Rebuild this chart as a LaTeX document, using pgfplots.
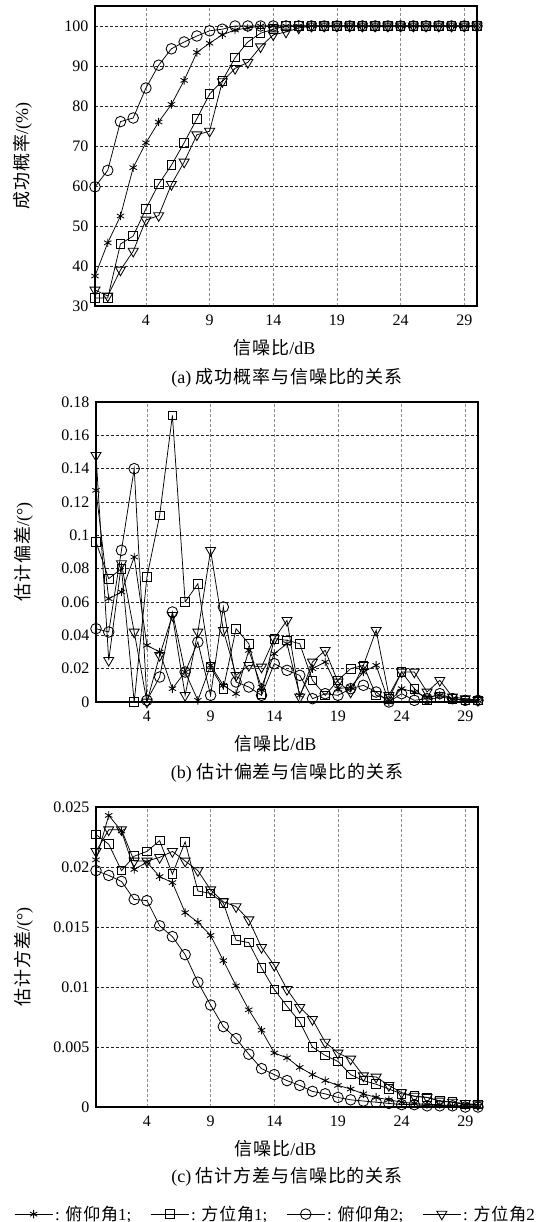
\documentclass[border=0pt]{standalone}
\usepackage{pgfplots}
\usepackage{pgfplotstable}
\pgfplotsset{compat=1.18}
\usepackage{fontspec}
\setmainfont{Liberation Serif}
\newfontfamily\cjk[LetterSpace=5]{Noto Sans CJK SC}
\newcommand{\zh}[1]{{\cjk #1}}

\pgfplotstableread{
x s q c t
0 37.5 32.0 59.8 34.0
1 45.8 32.0 63.9 32.5
2 52.5 45.5 76.1 39.0
3 64.6 47.5 77.0 43.7
4 70.8 54.3 84.5 51.5
5 76.0 60.5 90.2 52.6
6 80.4 65.2 94.3 60.4
7 86.4 70.8 96.0 66.0
8 93.4 76.8 97.5 72.8
9 95.7 83.0 98.8 73.7
10 97.8 86.3 99.2 86.1
11 99.0 92.1 100 89.4
12 99.5 96.0 100 90.9
13 100 98.2 100 94.8
14 100 99.2 100 97.8
15 100 100 100 98.5
16 100 100 100 99.5
17 100 100 100 100
18 100 100 100 100
19 100 100 100 100
20 100 100 100 100
21 100 100 100 100
22 100 100 100 100
23 100 100 100 100
24 100 100 100 100
25 100 100 100 100
26 100 100 100 100
27 100 100 100 100
28 100 100 100 100
29 100 100 100 100
30 100 100 100 100
}\tableA

\pgfplotstableread{
x s q c t
0 0.127 0.096 0.044 0.148
1 0.062 0.074 0.042 0.025
2 0.066 0.080 0.091 0.083
3 0.087 0.000 0.140 0.042
4 0.034 0.075 0.001 0.000
5 0.030 0.112 0.015 0.028
6 0.008 0.172 0.054 0.052
7 0.018 0.060 0.018 0.004
8 0.001 0.071 0.036 0.042
9 0.022 0.021 0.004 0.091
10 0.010 0.008 0.057 0.043
11 0.005 0.044 0.012 0.016
12 0.031 0.035 0.009 0.022
13 0.009 0.005 0.004 0.021
14 0.029 0.038 0.023 0.038
15 0.035 0.037 0.019 0.049
16 0.004 0.035 0.016 0.003
17 0.020 0.013 0.002 0.024
18 0.024 0.004 0.005 0.031
19 0.008 0.013 0.004 0.012
20 0.009 0.020 0.008 0.006
21 0.018 0.022 0.010 0.022
22 0.022 0.004 0.006 0.043
23 0.000 0.002 0.000 0.004
24 0.008 0.018 0.005 0.018
25 0.006 0.008 0.001 0.018
26 0.003 0.001 0.002 0.006
27 0.004 0.003 0.005 0.013
28 0.002 0.002 0.002 0.003
29 0.001 0.001 0.001 0.002
30 0.001 0.001 0.001 0.001
}\tableB

\pgfplotstableread{
x s q c t
0 0.0206 0.0227 0.0197 0.0213
1 0.0243 0.0219 0.0193 0.0231
2 0.0230 0.0197 0.0188 0.0231
3 0.0198 0.0209 0.0173 0.0205
4 0.0204 0.0213 0.0172 0.0205
5 0.0192 0.0222 0.0151 0.0208
6 0.0187 0.0194 0.0142 0.0213
7 0.0162 0.0221 0.0127 0.0205
8 0.0154 0.0180 0.0104 0.0197
9 0.0143 0.0178 0.0085 0.0181
10 0.0122 0.0170 0.0067 0.0171
11 0.0101 0.0139 0.0057 0.0167
12 0.0081 0.0137 0.0044 0.0156
13 0.0064 0.0116 0.0032 0.0133
14 0.0045 0.0098 0.0027 0.0118
15 0.0041 0.0084 0.0022 0.0098
16 0.0033 0.0071 0.0018 0.0083
17 0.0027 0.0050 0.0013 0.0073
18 0.0022 0.0043 0.0011 0.0054
19 0.0018 0.0038 0.0008 0.0045
20 0.0015 0.0027 0.0006 0.0040
21 0.0011 0.0022 0.0005 0.0026
22 0.0008 0.0019 0.0004 0.0025
23 0.0006 0.0015 0.0003 0.0018
24 0.0004 0.0011 0.0002 0.0012
25 0.0003 0.0009 0.0002 0.0009
26 0.0002 0.0008 0.0001 0.0008
27 0.0002 0.0005 0.0001 0.0005
28 0.0001 0.0004 0.0001 0.0004
29 0.0001 0.0002 0.0000 0.0003
30 0.0001 0.0002 0.0000 0.0002
}\tableC

\pgfplotsset{
  myax/.style={
    scale only axis, width=382pt, height=300pt,
    xmin=0, xmax=30, xtick={4,9,14,19,24,29},
    grid=major,
    x grid style={densely dashed, black!45, line width=0.5pt},
    y grid style={densely dashed, black!85, line width=0.5pt},
    axis line style={line width=1.3pt},
    major tick length=0pt,
    tick label style={font=\fontsize{16}{16}\selectfont},
    /pgf/number format/assume math mode=true,
    scaled y ticks=false,
    /pgf/number format/fixed, /pgf/number format/precision=3,
    clip=false,
    xlabel={\zh{信噪比}/dB},
    xlabel style={font=\fontsize{18}{18}\selectfont, at={(axis description cs:0.47,-0.14)}, anchor=center},
    ylabel style={font=\fontsize{18}{18}\selectfont, at={(axis description cs:-0.19,0.5)}, anchor=center},
    xticklabel style={yshift=-5pt},
    yticklabel style={xshift=-3pt},
    legend image code/.code={\draw[mark repeat=2,mark phase=2,#1] plot coordinates {(0pt,0pt) (19pt,0pt) (38pt,0pt)};},
  },
  sstar/.style={black, line width=0.75pt, mark=asterisk, mark size=4.2pt, mark options={solid, line width=0.85pt}},
  ssq/.style={black, line width=0.75pt, mark=square, mark size=4.3pt, mark options={solid, line width=0.85pt}},
  scirc/.style={black, line width=0.75pt, mark=o, mark size=5.3pt, mark options={solid, line width=0.85pt}},
  stri/.style={black, line width=0.75pt, mark=triangle, mark size=5.8pt, mark options={solid, rotate=180, line width=0.85pt}},
}

\begin{document}
\begin{tikzpicture}
\useasboundingbox (0pt,0pt) rectangle (553pt,-1222pt);

% (a)
\begin{axis}[myax, at={(95pt,-6pt)}, anchor=north west,
  ymin=30, ymax=105, ytick={30,40,...,100},
  ylabel={\zh{成功概率}/(\%)}]
\addplot[sstar] table[x=x,y=s] {\tableA};
\addplot[ssq] table[x=x,y=q] {\tableA};
\addplot[scirc] table[x=x,y=c] {\tableA};
\addplot[stri] table[x=x,y=t] {\tableA};
\end{axis}
\node[font=\fontsize{18}{18}\selectfont] at (287pt,-378pt) {(a) \zh{成功概率与信噪比的关系}};

% (b)
\begin{axis}[myax, at={(96pt,-402pt)}, anchor=north west,
  ymin=0, ymax=0.18, ytick={0,0.02,0.04,0.06,0.08,0.1,0.12,0.14,0.16,0.18},
  ylabel={\zh{估计偏差}/(°)}]
\addplot[sstar] table[x=x,y=s] {\tableB};
\addplot[ssq] table[x=x,y=q] {\tableB};
\addplot[scirc] table[x=x,y=c] {\tableB};
\addplot[stri] table[x=x,y=t] {\tableB};
\end{axis}
\node[font=\fontsize{18}{18}\selectfont] at (287pt,-773pt) {(b) \zh{估计偏差与信噪比的关系}};

% (c)
\begin{axis}[myax, at={(96pt,-807pt)}, anchor=north west,
  ymin=0, ymax=0.025, ytick={0,0.005,0.01,0.015,0.02,0.025},
  ylabel={\zh{估计方差}/(°)},
  legend columns=4,
  legend style={at={(axis description cs:0.47,-0.357)}, anchor=center, draw=none, fill=none,
    font=\fontsize{17}{17}\selectfont,
    /tikz/every odd column/.append style={column sep=0pt},
    /tikz/every even column/.append style={column sep=17pt}}]
\addplot[sstar] table[x=x,y=s] {\tableC};
\addlegendentry{: \zh{俯仰角}1;}
\addplot[ssq] table[x=x,y=q] {\tableC};
\addlegendentry{: \zh{方位角}1;}
\addplot[scirc] table[x=x,y=c] {\tableC};
\addlegendentry{: \zh{俯仰角}2;}
\addplot[stri] table[x=x,y=t] {\tableC};
\addlegendentry{: \zh{方位角}2}
\end{axis}
\node[font=\fontsize{18}{18}\selectfont] at (287pt,-1177pt) {(c) \zh{估计方差与信噪比的关系}};
\end{tikzpicture}
\end{document}
